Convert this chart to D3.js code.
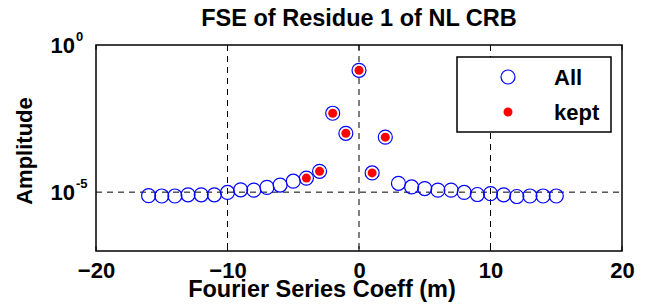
<!DOCTYPE html>
<html>
<head>
<meta charset="utf-8">
<script src="https://cdn.jsdelivr.net/npm/d3@7"></script>
<style>
  body { margin: 0; background: #fff; }
  text { font-family: "Liberation Sans", Arial, Helvetica, sans-serif; font-weight: bold; }
</style>
</head>
<body>
<svg></svg>
<script>
var svg = d3.select("svg")
            .attr("width", 649)
            .attr("height", 308);

// data
var coeffs = [-16, -15, -14, -13, -12, -11, -10, -9, -8, -7, -6, -5, -4, -3, -2, -1,
              0, 1, 2, 3, 4, 5, 6, 7, 8, 9, 10, 11, 12, 13, 14, 15];
var amplitudes = [7.6e-6, 7.4e-6, 7.4e-6, 8.1e-6, 8.1e-6, 8.1e-6, 9.8e-6, 1.2e-5, 1.17e-5, 1.45e-5, 1.74e-5, 2.35e-5, 3.0e-5, 5.1e-5, 4.8e-3, 1.0e-3,
                  0.138, 4.5e-5, 7.4e-4, 2.0e-5, 1.5e-5, 1.32e-5, 1.17e-5, 1.17e-5, 9.8e-6, 8.3e-6, 8.9e-6, 8.1e-6, 7.1e-6, 7.4e-6, 7.4e-6, 7.4e-6];
var keptCoeffs = [-4, -3, -2, -1, 0, 1, 2];
var xTicks = [-20, -10, 0, 10, 20];
var yTicks = [1e-5, 1];
var yTickExp = ["-5", "0"];
var legendLabels = ["All", "kept"];

var margin = {top: 45, right: 27, bottom: 57, left: 96},
    width = 649 - margin.left - margin.right,
    height = 308 - margin.top - margin.bottom,
    g = svg.append("g").attr("transform", "translate(" + margin.left + "," + margin.top + ")");

//define scales
var x = d3.scaleLinear().domain([-20, 20]).range([0, width]),
    y = d3.scaleLog().domain([1e-7, 1]).range([height, 0]);

var allData = coeffs.map(function(m, i) { return {m: m, a: amplitudes[i]}; });
var keptData = allData.filter(function(d) { return keptCoeffs.indexOf(d.m) >= 0; });

//grid lines (dashed)
g.selectAll(".gridx")
    .data([-10, 0, 10])
    .enter().append("line")
    .attr("x1", function(d) { return x(d); })
    .attr("x2", function(d) { return x(d); })
    .attr("y1", 0)
    .attr("y2", height)
    .style("stroke", "#000")
    .style("stroke-width", 1)
    .style("stroke-dasharray", "6,5");

g.selectAll(".gridy")
    .data([1e-5])
    .enter().append("line")
    .attr("x1", 0)
    .attr("x2", width)
    .attr("y1", function(d) { return y(d); })
    .attr("y2", function(d) { return y(d); })
    .style("stroke", "#000")
    .style("stroke-width", 1)
    .style("stroke-dasharray", "6,5");

//x axis
var xAxis = g.append("g")
    .attr("transform", "translate(0," + height + ")")
    .call(d3.axisBottom(x).tickValues(xTicks).tickSize(0).tickPadding(11));
xAxis.select(".domain").remove();
xAxis.selectAll("text").style("font-size", "22px").style("fill", "#000");

//inner tick marks
g.selectAll(".tickb")
    .data(xTicks)
    .enter().append("line")
    .attr("x1", function(d) { return x(d); })
    .attr("x2", function(d) { return x(d); })
    .attr("y1", height)
    .attr("y2", height - 5)
    .style("stroke", "#000");
g.selectAll(".tickt")
    .data(xTicks)
    .enter().append("line")
    .attr("x1", function(d) { return x(d); })
    .attr("x2", function(d) { return x(d); })
    .attr("y1", 0)
    .attr("y2", 5)
    .style("stroke", "#000");

//y axis: 10^n labels
var yLab = g.selectAll(".ylab")
    .data(yTicks)
    .enter().append("g")
    .attr("transform", function(d) { return "translate(-21," + y(d) + ")"; });
yLab.append("text")
    .attr("text-anchor", "end")
    .attr("y", 8)
    .style("font-size", "22px")
    .text("10");
yLab.append("text")
    .attr("x", 1)
    .attr("y", -4)
    .style("font-size", "13px")
    .text(function(d, i) { return yTickExp[i]; });

//axes box
g.append("rect")
    .attr("width", width)
    .attr("height", height)
    .style("fill", "none")
    .style("stroke", "#000")
    .style("stroke-width", 1.5);

//all coefficients
g.selectAll(".all")
    .data(allData)
    .enter().append("circle")
    .attr("cx", function(d) { return x(d.m); })
    .attr("cy", function(d) { return y(d.a); })
    .attr("r", 7)
    .style("fill", "none")
    .style("stroke", "#0000ff")
    .style("stroke-width", 1.2);

//kept coefficients
g.selectAll(".kept")
    .data(keptData)
    .enter().append("circle")
    .attr("cx", function(d) { return x(d.m); })
    .attr("cy", function(d) { return y(d.a); })
    .attr("r", 4.5)
    .style("fill", "#ff0000");

//legend
var legend = svg.append("g").attr("transform", "translate(457,57)");
legend.append("rect")
    .attr("width", 154)
    .attr("height", 75)
    .style("fill", "#fff")
    .style("stroke", "#000")
    .style("stroke-width", 1.5);
legend.append("circle")
    .attr("cx", 51).attr("cy", 20).attr("r", 7)
    .style("fill", "none").style("stroke", "#0000ff").style("stroke-width", 1.2);
legend.append("circle")
    .attr("cx", 51).attr("cy", 55).attr("r", 4.5)
    .style("fill", "#ff0000");
legend.selectAll(".lt")
    .data(legendLabels)
    .enter().append("text")
    .attr("x", 97)
    .attr("y", function(d, i) { return 28 + i * 35; })
    .style("font-size", "22px")
    .text(function(d) { return d; });

//titles
svg.append("text")
    .attr("x", 359)
    .attr("y", 26)
    .attr("text-anchor", "middle")
    .style("font-size", "23.5px")
    .text("FSE of Residue 1 of NL CRB");

svg.append("text")
    .attr("x", 322)
    .attr("y", 297)
    .attr("text-anchor", "middle")
    .style("font-size", "23.5px")
    .text("Fourier Series Coeff (m)");

svg.append("text")
    .attr("transform", "translate(32,151) rotate(-90)")
    .attr("text-anchor", "middle")
    .style("font-size", "22px")
    .text("Amplitude");
</script>
</body>
</html>
